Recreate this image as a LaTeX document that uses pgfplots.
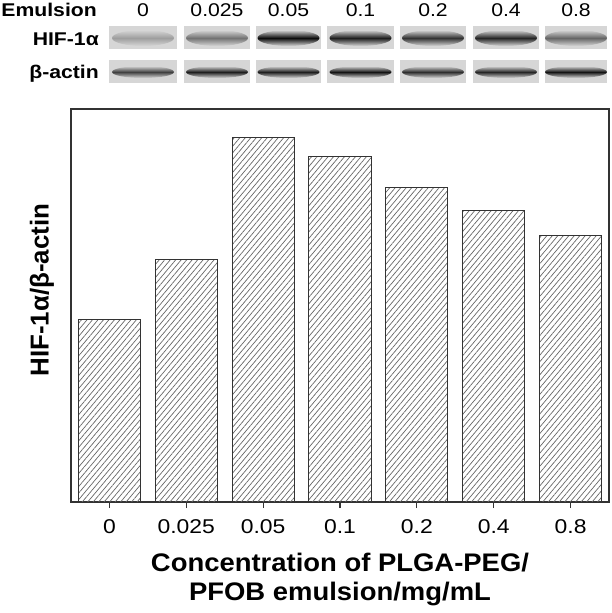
\documentclass[border=0pt]{standalone}
\usepackage{graphicx}
\usepackage{pgfplots}
\pgfplotsset{compat=1.18}
\usepackage{fontspec}
\setmainfont{Liberation Sans}
\usetikzlibrary{patterns.meta}
\definecolor{blotbg}{HTML}{D6D6D6}
\definecolor{axisink}{HTML}{333333}
% the source figure is slightly stretched sideways
\newcommand\sx[1]{\scalebox{1.15}[1]{#1}}
\newcommand\sxl[1]{\scalebox{1.08}[1]{#1}}
\begin{document}
\begin{tikzpicture}
\useasboundingbox (0,0) rectangle (612bp,-613bp);

% western blot strip
\node[anchor=base east, inner sep=0, font=\bfseries\fontsize{18.5}{22}\selectfont] at (97bp,-16bp) {\sx{Emulsion}};
\node[anchor=base east, inner sep=0, font=\bfseries\fontsize{18.5}{22}\selectfont] at (99bp,-45bp) {\sx{HIF-1α}};
\node[anchor=base east, inner sep=0, font=\bfseries\fontsize{18.5}{22}\selectfont] at (99bp,-78bp) {\sx{β-actin}};
\foreach \lab/\xl/\xr/\hif/\act in {0/109/177/38/75, 0.025/184/250/55/88, 0.05/256/321/95/88, 0.1/327/394/88/92, 0.2/400/466/80/82, 0.4/473/539/85/85, 0.8/545/607/60/92}{
  \pgfmathsetmacro\cx{(\xl+\xr)/2}
  \fill[blotbg] (\xl bp,-26bp) rectangle (\xr bp,-49bp);
  \fill[blotbg] (\xl bp,-60bp) rectangle (\xr bp,-83bp);
  \shade[top color=blotbg, bottom color=blotbg, middle color=black!\hif] (\cx bp,-38bp) ellipse (31bp and 8bp);
  \shade[top color=blotbg, bottom color=blotbg, middle color=black!\act] (\cx bp,-72bp) ellipse (31bp and 6bp);
  \node[anchor=base, inner sep=0, font=\fontsize{18.5}{22}\selectfont] at (\cx bp,-16bp) {\sx{\lab}};
}

\begin{axis}[
    at={(71bp,-502bp)}, anchor=south west,
    width=538bp, height=393bp, scale only axis,
    xmin=-0.5, xmax=6.5, ymin=0, ymax=2.148,
    ybar, bar width=0.81,
    xtick={0,...,6},
    xticklabels={\sx{0},\sx{0.025},\sx{0.05},\sx{0.1},\sx{0.2},\sx{0.4},\sx{0.8}},
    ytick=\empty,
    xtick pos=left, tick align=outside, major tick length=6bp,
    xtick style={axisink, line width=1.2bp},
    axis line style={axisink, line width=1.4bp},
    xticklabel style={anchor=base, yshift=-25bp, font=\fontsize{20}{24}\selectfont},
    xlabel={\sxl{Concentration of PLGA-PEG/}\\\sxl{PFOB emulsion/mg/mL}},
    xlabel style={at={(axis description cs:0.5,-0.197)}, anchor=center, align=center, font=\bfseries\fontsize{25.5}{29}\selectfont},
    ylabel={HIF-1α/β-actin},
    ylabel style={at={(axis description cs:-0.054,0.539)}, anchor=center, font=\bfseries\fontsize{26}{30}\selectfont},
]
\addplot[draw=axisink, line width=1bp, pattern={Lines[angle=50, distance=4.2bp, line width=0.7bp]}, pattern color=black!60]
    coordinates {(0,1.000) (1,1.326) (2,1.991) (3,1.891) (4,1.721) (5,1.594) (6,1.459)};
\end{axis}
\end{tikzpicture}
\end{document}
